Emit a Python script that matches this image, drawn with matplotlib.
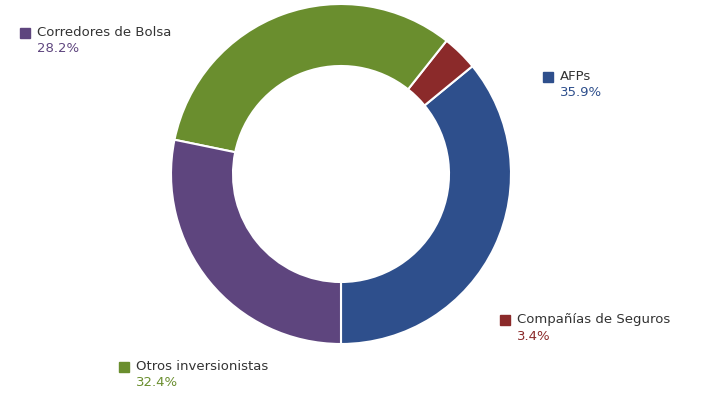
import matplotlib
matplotlib.use("Agg")
import matplotlib.pyplot as plt

categories = ["AFPs", "Compañías de Seguros", "Otros inversionistas", "Corredores de Bolsa"]
values = [35.9, 3.4, 32.4, 28.2]
colors = ["#2E4F8C", "#8B2A2A", "#6A8E2E", "#5E457E"]
label_pos = [(548, 77), (505, 320), (124, 367), (25, 33)]  # pixel positions of markers

W, H = 702, 409
fig = plt.figure(figsize=(W/100, H/100), dpi=100)
ax = fig.add_axes([0, 0, 1, 1])
ax.set_xlim(0, W)
ax.set_ylim(H, 0)
ax.set_aspect("equal")
ax.axis("off")

wedges, _ = ax.pie(values, colors=colors, startangle=90, counterclock=False,
                   center=(341, 174), radius=170, frame=True,
                   wedgeprops=dict(width=62, edgecolor="white", linewidth=1.5))
ax.set_xlim(0, W)
ax.set_ylim(H, 0)
ax.axis("off")

for cat, val, col, (x, y) in zip(categories, values, colors, label_pos):
    ax.plot([x], [y], marker="s", color=col, markersize=7, linestyle="none")
    ax.text(x + 12, y, cat, fontsize=9.5, color="#333333", va="center", ha="left")
    ax.text(x + 12, y + 16, f"{val}%", fontsize=9.5, color=col, va="center", ha="left")

fig.savefig("out.png", dpi=100)
